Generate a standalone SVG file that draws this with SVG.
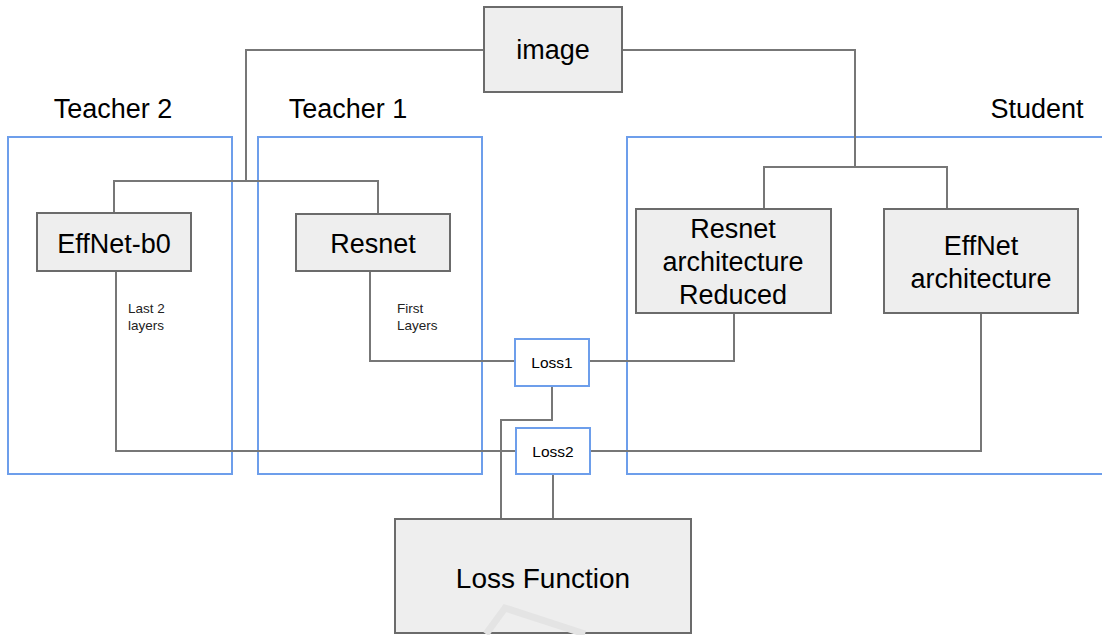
<svg xmlns="http://www.w3.org/2000/svg" width="1102" height="635" viewBox="0 0 1102 635">
<style>
.grp{fill:none;stroke:#6d9eeb;stroke-width:2}
.box{fill:#eeeeee;stroke:#6b6b6b;stroke-width:2}
.loss{fill:#ffffff;stroke:#6d9eeb;stroke-width:2}
.con{fill:none;stroke:#777777;stroke-width:2}
text{font-family:"Liberation Sans",Arial,sans-serif;fill:#000;text-anchor:middle}
.big{font-size:27px}
.lbl{font-size:27px}
.lf{font-size:28px}
.sm{font-size:13.5px;text-anchor:start;fill:#222}
.ls{font-size:15.5px}
</style>
<rect width="1102" height="635" fill="#ffffff"/>
<g id="teacher2">
<rect class="grp" x="8" y="137" width="224" height="337"/>
<text class="lbl" x="113" y="118">Teacher 2</text>
</g>
<g id="teacher1">
<rect class="grp" x="258" y="137" width="224" height="337"/>
<text class="lbl" x="348" y="118">Teacher 1</text>
</g>
<g id="student">
<rect class="grp" x="627" y="137" width="480" height="337"/>
<text class="lbl" x="1037" y="118">Student</text>
</g>
<g id="connectors">
<polyline class="con" points="484,50 246,50 246,181"/>
<polyline class="con" points="114,213 114,181 378,181 378,214"/>
<polyline class="con" points="622,50 855,50 855,167"/>
<polyline class="con" points="764,209 764,167 947,167 947,209"/>
<polyline class="con" points="116,271 116,451 516,451"/>
<polyline class="con" points="370,271 370,361 515,361"/>
<polyline class="con" points="589,361 734,361 734,313"/>
<polyline class="con" points="590,451 981,451 981,313"/>
<polyline class="con" points="552,386 552,420 501,420 501,519"/>
<polyline class="con" points="553,474 553,519"/>
</g>
<g id="image">
<rect class="box" x="484" y="7" width="138" height="85"/>
<text class="big" x="553" y="59">image</text>
</g>
<g id="effnet-b0">
<rect class="box" x="37" y="213" width="154" height="58"/>
<text class="big" x="114" y="253">EffNet-b0</text>
</g>
<g id="resnet">
<rect class="box" x="296" y="214" width="154" height="57"/>
<text class="big" x="373" y="253">Resnet</text>
</g>
<g id="resnet-reduced">
<rect class="box" x="636" y="209" width="195" height="104"/>
<text class="big" x="733" y="238">Resnet</text>
<text class="big" x="733" y="271">architecture</text>
<text class="big" x="733" y="304">Reduced</text>
</g>
<g id="effnet-arch">
<rect class="box" x="884" y="209" width="194" height="104"/>
<text class="big" x="981" y="255">EffNet</text>
<text class="big" x="981" y="288">architecture</text>
</g>
<g id="label-last2">
<text class="sm" x="128" y="313">Last 2</text>
<text class="sm" x="128" y="330">layers</text>
</g>
<g id="label-first">
<text class="sm" x="397" y="313">First</text>
<text class="sm" x="397" y="330">Layers</text>
</g>
<g id="loss1">
<rect class="loss" x="515" y="339" width="74" height="47"/>
<text class="ls" x="552" y="368">Loss1</text>
</g>
<g id="loss2">
<rect class="loss" x="516" y="428" width="74" height="46"/>
<text class="ls" x="553" y="457">Loss2</text>
</g>
<g id="loss-function">
<rect class="box" x="395" y="519" width="296" height="114"/>
<polyline points="486,634 505,608 585,634" fill="none" stroke="#e4e4e4" stroke-width="7"/>
<text class="lf" x="543" y="588">Loss Function</text>
</g>
</svg>
